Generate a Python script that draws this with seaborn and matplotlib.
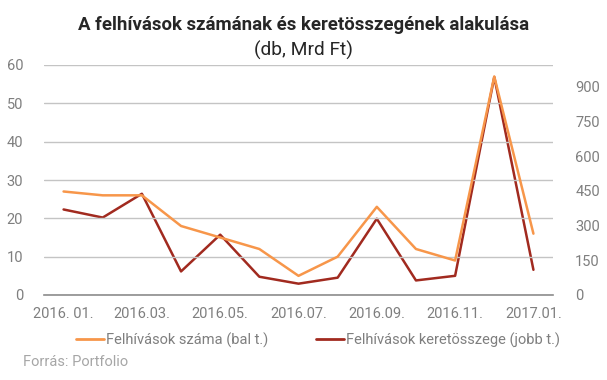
import matplotlib
matplotlib.use("Agg")
import matplotlib.pyplot as plt
import seaborn as sns
import pandas as pd
from matplotlib.lines import Line2D

months = ["2016.01", "2016.02", "2016.03", "2016.04", "2016.05", "2016.06", "2016.07",
          "2016.08", "2016.09", "2016.10", "2016.11", "2016.12", "2017.01"]
calls_count = [27, 26, 26, 18, 15, 12, 5, 10, 23, 12, 9, 57, 16]
calls_amount = [370, 335, 438, 102, 261, 79, 49, 75, 330, 63, 83, 943, 109]
tick_labels = ["2016. 01.", "2016.03.", "2016.05.", "2016.07.", "2016.09.", "2016.11.", "2017.01."]
left_ticks = [0, 10, 20, 30, 40, 50, 60]
right_ticks = [0, 150, 300, 450, 600, 750, 900]

sns.set_theme(style="white")
plt.rcParams['font.family'] = ['Roboto', 'DejaVu Sans']

df = pd.DataFrame({"idx": range(len(months)), "month": months,
                   "count": calls_count, "amount": calls_amount})

orange = "#F7964A"
darkred = "#A12A1F"
tick_color = "#7F7F7F"
fs = 10.5

fig = plt.figure(figsize=(6.07, 3.80), dpi=100)
ax = fig.add_axes([44/607, 1-295/380, (553-44)/607, (295-65)/380])
ax2 = ax.twinx()

sns.lineplot(data=df, x="idx", y="count", ax=ax, color=orange, linewidth=1.8)
sns.lineplot(data=df, x="idx", y="amount", ax=ax2, color=darkred, linewidth=1.8)

ax.set_xlim(-0.5, len(months) - 0.5)
ax.set_ylim(0, 60)
ax2.set_ylim(0, 995)
ax.set_yticks(left_ticks)
ax2.set_yticks(right_ticks)
ax.set_xticks(list(range(0, len(months), 2)))
ax.set_xticklabels(tick_labels)
ax.set_xlabel("")
ax.set_ylabel("")
ax2.set_ylabel("")

ax.yaxis.grid(True, color="#C4C4C4", linewidth=1)
ax.set_axisbelow(True)
for a in (ax, ax2):
    for s in ["top", "left", "right", "bottom"]:
        a.spines[s].set_visible(False)
    a.tick_params(axis="both", length=0, labelsize=fs, labelcolor=tick_color)
ax.spines["bottom"].set_visible(True)
ax.spines["bottom"].set_color("#8C8C8C")
ax.spines["bottom"].set_linewidth(1.2)
ax.tick_params(axis="y", pad=15)
ax2.tick_params(axis="y", pad=16)
ax.tick_params(axis="x", pad=9)
ax.set_zorder(ax2.get_zorder() + 1)
ax.patch.set_visible(False)

fig.text(0.5, 1-25/380, "A felhívások számának és keretösszegének alakulása",
         ha="center", va="center", fontsize=13.4, fontweight="bold", color="#262626")
fig.text(0.5, 1-50/380, "(db, Mrd Ft)", ha="center", va="center",
         fontsize=13.8, color="#262626")

handles = [Line2D([], [], color=orange, linewidth=2),
           Line2D([], [], color=darkred, linewidth=2)]
fig.legend(handles, ["Felhívások száma (bal t.)", "Felhívások keretösszege (jobb t.)"],
           loc="center", bbox_to_anchor=(318/607, 1-340/380), ncol=2, frameon=False,
           fontsize=fs, labelcolor=tick_color, handlelength=1.9, handletextpad=0.15,
           columnspacing=3.3)
fig.text(23/607, 1-362/380, "Forrás: Portfolio", ha="left", va="center",
         fontsize=fs, color="#A6A6A6")

fig.savefig("out.png", dpi=100)
